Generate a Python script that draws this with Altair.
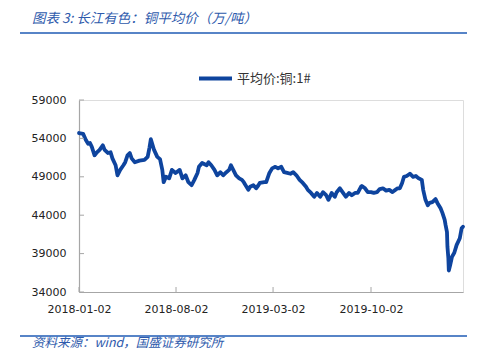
import altair as alt
import pandas as pd

# ---- data ----
dates = [
    "2018-01-02", "2018-01-11", "2018-01-17", "2018-01-22", "2018-01-26", "2018-01-30",
    "2018-02-05", "2018-02-09", "2018-02-16", "2018-02-23", "2018-02-27", "2018-03-06",
    "2018-03-12", "2018-03-16", "2018-03-23", "2018-03-27", "2018-04-02", "2018-04-09",
    "2018-04-13", "2018-04-18", "2018-04-23", "2018-04-27", "2018-05-04", "2018-05-14",
    "2018-05-25", "2018-06-01", "2018-06-05", "2018-06-08", "2018-06-15", "2018-06-22",
    "2018-06-28", "2018-07-03", "2018-07-06", "2018-07-11", "2018-07-18", "2018-07-24",
    "2018-08-01", "2018-08-10", "2018-08-16", "2018-08-23", "2018-08-29", "2018-09-05",
    "2018-09-11", "2018-09-18", "2018-09-21", "2018-09-28", "2018-10-08", "2018-10-12",
    "2018-10-18", "2018-10-25", "2018-10-31", "2018-11-07", "2018-11-13", "2018-11-20",
    "2018-11-26", "2018-11-30", "2018-12-05", "2018-12-11", "2018-12-18", "2018-12-24",
    "2018-12-28", "2019-01-07", "2019-01-11", "2019-01-18", "2019-01-24", "2019-01-29",
    "2019-02-01", "2019-02-11", "2019-02-15", "2019-02-22", "2019-02-28", "2019-03-07",
    "2019-03-13", "2019-03-20", "2019-03-26", "2019-04-02", "2019-04-09", "2019-04-15",
    "2019-04-22", "2019-04-29", "2019-05-06", "2019-05-13", "2019-05-17", "2019-05-24",
    "2019-05-31", "2019-06-06", "2019-06-13", "2019-06-19", "2019-06-26", "2019-07-01",
    "2019-07-08", "2019-07-15", "2019-07-19", "2019-07-26", "2019-08-02", "2019-08-08",
    "2019-08-15", "2019-08-21", "2019-08-28", "2019-09-03", "2019-09-10", "2019-09-12",
    "2019-09-19", "2019-09-25", "2019-10-02", "2019-10-08", "2019-10-15", "2019-10-21",
    "2019-10-28", "2019-11-04", "2019-11-11", "2019-11-18", "2019-11-22", "2019-11-29",
    "2019-12-04", "2019-12-09", "2019-12-13", "2019-12-19", "2019-12-26", "2020-01-02",
    "2020-01-08", "2020-01-14", "2020-01-21", "2020-01-24", "2020-01-29", "2020-02-03",
    "2020-02-07", "2020-02-13", "2020-02-20", "2020-02-24", "2020-03-02", "2020-03-06",
    "2020-03-11", "2020-03-13", "2020-03-16", "2020-03-17", "2020-03-19", "2020-03-20",
    "2020-03-23", "2020-03-27", "2020-04-01", "2020-04-06", "2020-04-13", "2020-04-17",
    "2020-04-20",
]
prices = [
    54700, 54600, 53800, 53300, 53400, 52900,
    51800, 52100, 52500, 53100, 52500, 52100,
    52200, 51400, 50500, 49200, 49900, 50500,
    50900, 51800, 52100, 51400, 50900, 51100,
    51200, 51600, 52800, 53900, 52500, 51600,
    51300, 49900, 48300, 49000, 48800, 49900,
    49500, 49900, 48800, 49200, 48300, 47900,
    48600, 49500, 50300, 50800, 50500, 50900,
    50500, 49900, 49200, 49600, 49200, 49600,
    49900, 50500, 49900, 49200, 48800, 48600,
    48300, 47300, 47700, 47900, 47500, 47900,
    48200, 48300, 48300, 49500, 50100, 50300,
    50100, 50300, 49600, 49500, 49400, 49600,
    49200, 48600, 48200, 47700, 47300, 46900,
    46400, 46900, 46400, 47000, 46600, 46000,
    46900, 46400, 47000, 47500, 46900, 46400,
    46900, 46600, 46900, 46900, 47700, 47800,
    47500, 47000, 47000, 46900, 47000, 47400,
    47500, 47200, 47300, 47000, 47200, 47500,
    47500, 48200, 49000, 49100, 49400, 49000,
    49100, 48800, 48600, 47300, 46000, 45300,
    45600, 45700, 46100, 45600, 44900, 44300,
    43400, 42700, 41800, 39900, 38400, 36800,
    37500, 38600, 39100, 40100, 41000, 42300,
    42500,
]
series_name = "平均价:铜:1#"
y_ticks = [34000, 39000, 44000, 49000, 54000, 59000]
x_tick_dates = ["2018-01-02", "2018-08-02", "2019-03-02", "2019-10-02"]
x_domain = ["2018-01-02", "2020-04-20"]
title_text = "图表 3:  长江有色：铜平均价（万/吨）"
source_text = "资料来源：wind，国盛证券研究所"


def dt(s):
    y, m, d = (int(p) for p in s.split("-"))
    return alt.DateTime(year=y, month=m, date=d, utc=True)


df = pd.DataFrame({"date": dates, "price": prices, "series": series_name})
xt = pd.DataFrame({"date": x_tick_dates})
yt = pd.DataFrame({"price": y_ticks})

W, H = 384, 192
BLUE = "#0E449E"
HEAD = "#2E5AAC"
AXIS = "#A6A6A6"

xscale = alt.Scale(type="utc", domain=[dt(s) for s in x_domain])
yscale = alt.Scale(domain=[y_ticks[0], y_ticks[-1]], nice=False, zero=False)

x_axis = alt.Axis(values=[dt(s) for s in x_tick_dates],
                  labelExpr="utcFormat(datum.value, '%Y-%m-%d')",
                  title=None, ticks=False,
                  labelPadding=11, labelFontSize=11, labelFont="DejaVu Sans",
                  labelColor="#222", domainColor=AXIS, domainWidth=1.2,
                  grid=False, labelFlush=False, labelOverlap=False)
y_axis = alt.Axis(values=y_ticks, format="d", title=None, ticks=False,
                  labelPadding=13, labelFontSize=11, labelFont="DejaVu Sans",
                  labelColor="#222", domainColor=AXIS, domainWidth=1.2,
                  grid=False)

line = alt.Chart(df).mark_line(strokeWidth=3.8, strokeJoin="round", strokeCap="round").encode(
    x=alt.X("date:T", scale=xscale, axis=x_axis),
    y=alt.Y("price:Q", scale=yscale, axis=y_axis),
    color=alt.Color("series:N", scale=alt.Scale(range=[BLUE]),
                    legend=alt.Legend(title=None, orient="none", legendX=118, legendY=-40,
                                      symbolType="stroke", symbolSize=1089,
                                      symbolStrokeWidth=4, labelFont="Noto Sans CJK SC",
                                      labelFontSize=13, labelColor="#333", labelOffset=3)),
)

xticks = alt.Chart(xt).mark_rule(color=AXIS, strokeWidth=1).encode(
    x=alt.X("date:T", scale=xscale, axis=x_axis), y=alt.value(H), y2=alt.value(H - 5))
yticks = alt.Chart(yt).mark_rule(color=AXIS, strokeWidth=1).encode(
    y=alt.Y("price:Q", scale=yscale, axis=y_axis), x=alt.value(0), x2=alt.value(5))

one = pd.DataFrame({"t": [title_text], "s": [source_text]})
title = alt.Chart(one).mark_text(align="left", baseline="middle", font="Noto Sans CJK SC",
                                 fontSize=13.5, fontStyle="italic", color=HEAD).encode(
    text="t:N", x=alt.value(-47), y=alt.value(-81))
source = alt.Chart(one).mark_text(align="left", baseline="middle", font="Noto Sans CJK SC",
                                  fontSize=12.5, fontStyle="italic", color=HEAD).encode(
    text="s:N", x=alt.value(-47), y=alt.value(243))
head_rule = alt.Chart(one).mark_rule(color="#1F5BB5", strokeWidth=1.5).encode(
    x=alt.value(-59), x2=alt.value(388), y=alt.value(-67))
foot_rule = alt.Chart(one).mark_rule(color="#1F5BB5", strokeWidth=1.5).encode(
    x=alt.value(-59), x2=alt.value(388), y=alt.value(236))

chart = alt.layer(line, xticks, yticks, title, source, head_rule, foot_rule).properties(
    width=W, height=H,
    autosize=alt.AutoSizeParams(type="none"),
    padding={"left": 71, "top": 92, "right": 16, "bottom": 58},
).configure_view(stroke=None).configure(background="white")

chart.save("out.html", embed_options={"renderer": "svg", "actions": False})
